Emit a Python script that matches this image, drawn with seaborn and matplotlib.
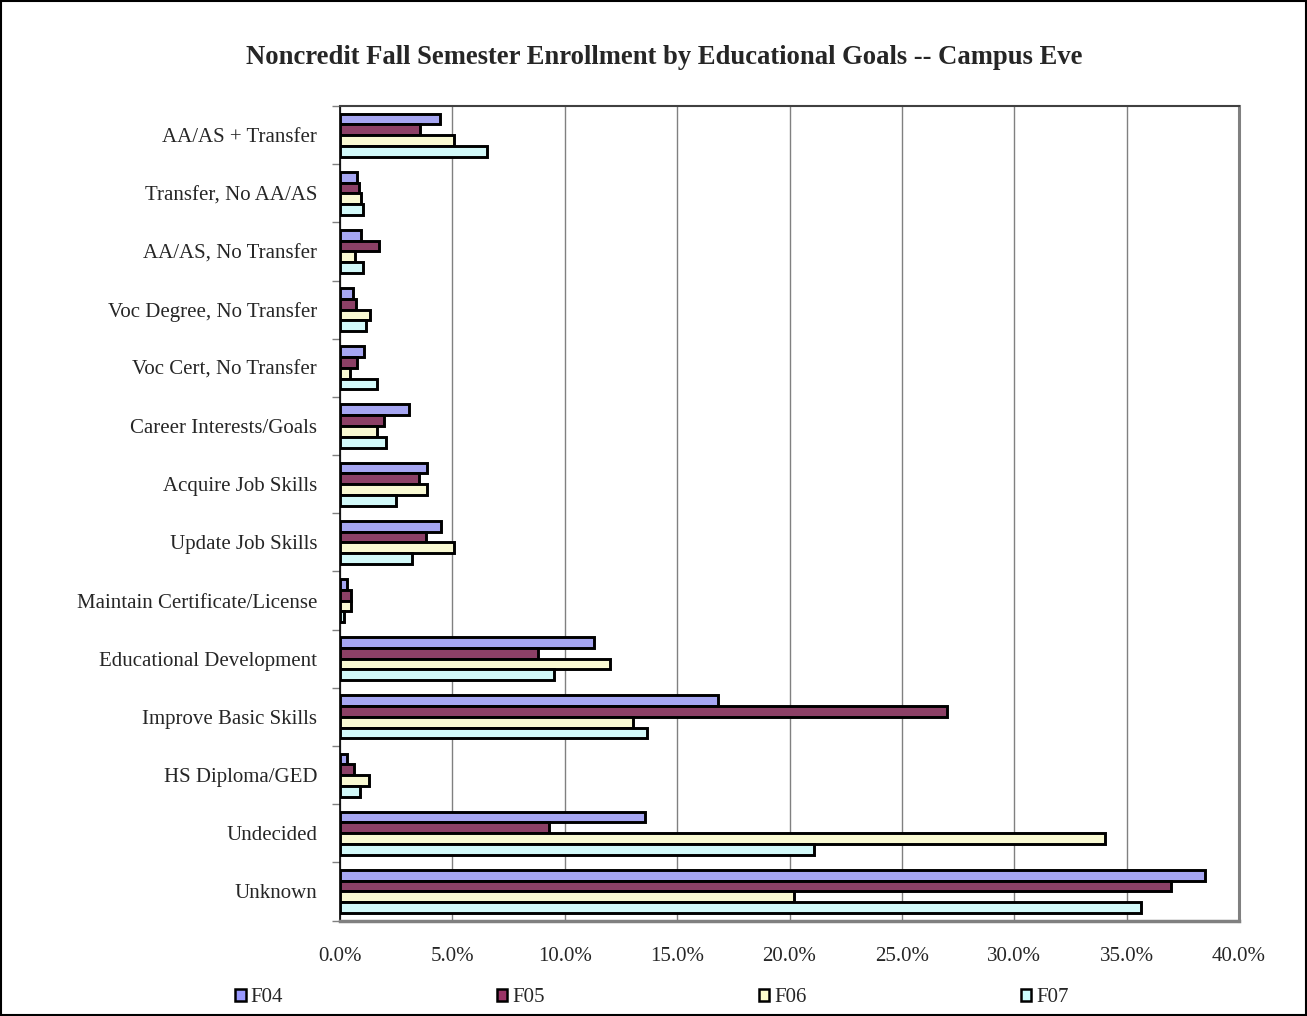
import matplotlib
matplotlib.use("Agg")
import matplotlib.pyplot as plt
import seaborn as sns
import pandas as pd
from matplotlib.patches import Patch, Rectangle
from matplotlib.ticker import FuncFormatter, FixedLocator

categories = ["AA/AS + Transfer", "Transfer, No AA/AS", "AA/AS, No Transfer",
              "Voc Degree, No Transfer", "Voc Cert, No Transfer", "Career Interests/Goals",
              "Acquire Job Skills", "Update Job Skills", "Maintain Certificate/License",
              "Educational Development", "Improve Basic Skills", "HS Diploma/GED",
              "Undecided", "Unknown"]
series = ["F04", "F05", "F06", "F07"]
f04 = [4.47, 0.74, 0.92, 0.59, 1.08, 3.09, 3.86, 4.50, 0.31, 11.28, 16.82, 0.30, 13.59, 38.50]
f05 = [3.56, 0.86, 1.74, 0.73, 0.74, 1.97, 3.53, 3.83, 0.48, 8.83, 27.00, 0.62, 9.31, 36.98]
f06 = [5.06, 0.95, 0.67, 1.32, 0.46, 1.63, 3.88, 5.06, 0.49, 12.01, 13.04, 1.31, 34.03, 20.22]
f07 = [6.53, 1.04, 1.04, 1.14, 1.65, 2.03, 2.51, 3.19, 0.18, 9.53, 13.67, 0.89, 21.10, 35.66]
colors = ["#9999FF", "#993366", "#FFFFCC", "#CCFFFF"]
title = "Noncredit Fall Semester Enrollment by Educational Goals -- Campus Eve"

rows = []
for s, vals in zip(series, [f04, f05, f06, f07]):
    for c, v in zip(categories, vals):
        rows.append({"Goal": c, "Term": s, "Pct": v})
df = pd.DataFrame(rows)

sns.set_style("white")
plt.rcParams["font.family"] = ["Liberation Serif", "DejaVu Serif"]

W, H = 1307, 1016
fig = plt.figure(figsize=(W / 100, H / 100), dpi=100)
ax = fig.add_axes([340 / W, 1 - 920.5 / H, (1239 - 340) / W, (920.5 - 106) / H])

sns.barplot(data=df, y="Goal", x="Pct", hue="Term", order=categories, hue_order=series,
            palette=colors, orient="h", width=0.74, gap=0, edgecolor="black",
            linewidth=2.1, ax=ax, legend=False, zorder=3)

ax.set_xlim(0, 40)
ax.set_ylim(len(categories) - 0.5, -0.5)
ax.set_xticks([0, 5, 10, 15, 20, 25, 30, 35, 40])
ax.xaxis.set_major_formatter(FuncFormatter(lambda v, p: f"{v:.1f}%"))
ax.grid(axis="x", color="#808080", linewidth=1.0, zorder=0)
ax.grid(axis="y", visible=False)
ax.set_axisbelow(True)
ax.set_xlabel("")
ax.set_ylabel("")

ax.tick_params(axis="x", length=0, pad=19, labelsize=15)
ax.tick_params(axis="y", which="major", length=0, pad=16.5, labelsize=15)
ax.yaxis.set_minor_locator(FixedLocator([i - 0.5 for i in range(len(categories) + 1)]))
ax.tick_params(axis="y", which="minor", length=6, width=1, color="#808080", left=True)

ax.spines["left"].set_color("black")
ax.spines["left"].set_linewidth(1.2)
ax.spines["top"].set_color("#404040")
ax.spines["top"].set_linewidth(1.5)
ax.spines["right"].set_color("#808080")
ax.spines["right"].set_linewidth(2.2)
ax.spines["bottom"].set_color("#808080")
ax.spines["bottom"].set_linewidth(2.5)

fig.text(664 / W, 1 - 57 / H, title, ha="center", va="center", fontsize=19.2,
         fontweight="bold")

handles = [Patch(facecolor=c, edgecolor="black", linewidth=1.8, label=s)
           for c, s in zip(colors, series)]
fig.legend(handles=handles, loc="center", bbox_to_anchor=(652 / W, 1 - 998 / H), ncol=4,
           frameon=False, fontsize=15, handlelength=0.5, handleheight=0.5,
           handletextpad=0.25, columnspacing=10.26, borderpad=0, borderaxespad=0)

fig.patches.append(Rectangle((0.001, 0.001), 0.998, 0.998, transform=fig.transFigure,
                             fill=False, edgecolor="black", linewidth=1.5))

fig.savefig("out.png", dpi=100)
